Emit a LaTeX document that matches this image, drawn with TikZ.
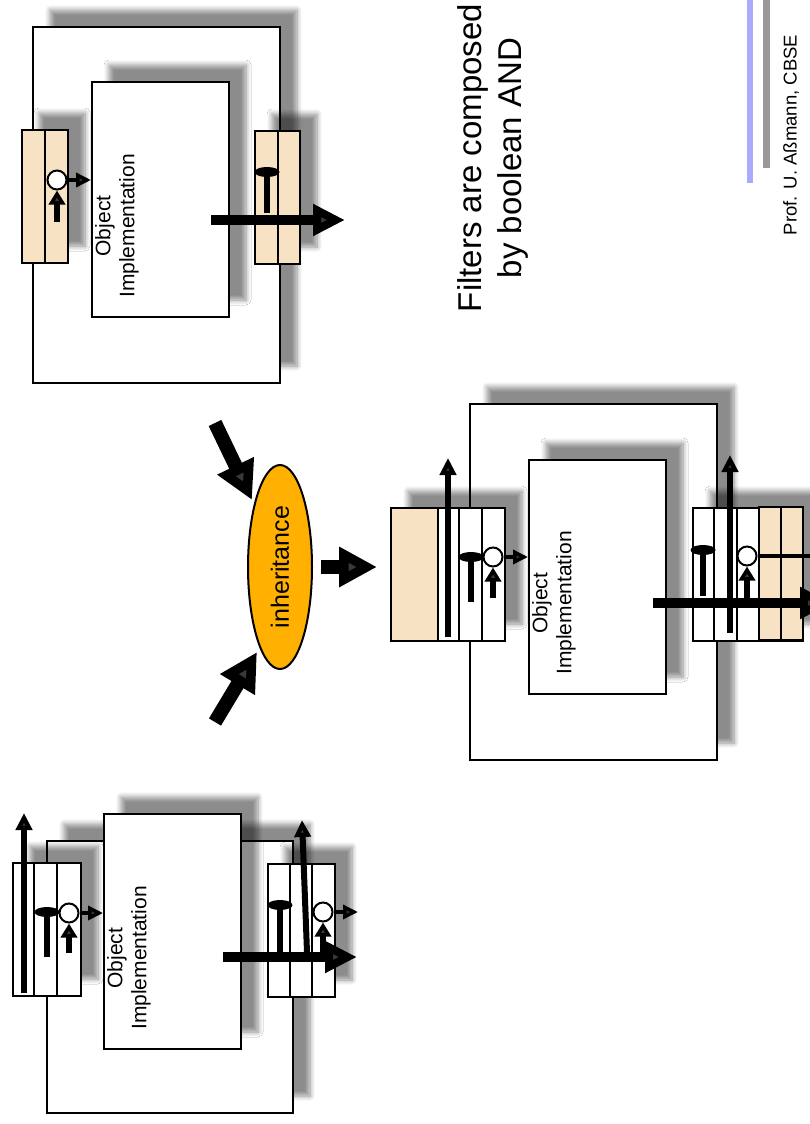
\documentclass[tikz,border=0pt]{standalone}
\usepackage{fontspec}
\setmainfont{Liberation Sans}
\usetikzlibrary{arrows.meta,shapes.geometric,shadows.blur}
\definecolor{wheat}{HTML}{F7E3C3}
\definecolor{amber}{HTML}{FFB000}
\definecolor{lilac}{HTML}{AAAAFF}
\definecolor{rulegray}{HTML}{999999}

\begin{document}
\begin{tikzpicture}[x=1pt,y=-1pt,
  shadowed/.style={blur shadow={shadow xshift=17pt,shadow yshift=17pt,shadow opacity=45,
    shadow blur radius=5pt,shadow blur steps=8}},
  shell/.style={draw,line width=2pt,fill=white,shadowed},
  impl/.style={draw,line width=2pt,fill=white,shadowed,anchor=north west,inner sep=0},
  filter/.style={draw,line width=2pt,fill=white,anchor=north west,inner sep=0,minimum height=133pt},
  beigefilter/.style={filter,fill=wheat},
  divider/.style={line width=2pt},
  impltext/.style={rotate=90,anchor=north,align=center,inner sep=2pt,font=\fontsize{21}{24}\selectfont},
  ring/.style={circle,draw,line width=2pt,fill=white,minimum size=19pt,inner sep=0},
  knob/.style={ellipse,fill=black,minimum width=25pt,minimum height=10pt,inner sep=0},
  stem/.style={line width=6pt},
  outflow/.style={-{Triangle[length=15pt,width=14pt]},line width=3.5pt},
  inflow/.style={-{Triangle[length=14pt,width=16pt]},line width=6pt},
  pass/.style={-{Triangle[length=17pt,width=16pt]},line width=6pt},
  call/.style={-{Triangle[length=32pt,width=30pt]},line width=10pt},
  fat/.style={-{Triangle[length=38pt,width=38pt]},line width=14pt}]
 \useasboundingbox (0,0) rectangle (810,1124);
 \clip (0,0) rectangle (810,1124);

 % upper object: filters of the first class
 \draw[shell] (33,27) rectangle (280,383);
 \node[impl,minimum width=137pt,minimum height=235pt] (topimpl) at (91,81) {};
 \node[impltext] (toptxt) at (93,226) {Object\\Implementation};
 \node[beigefilter,minimum width=46pt,shadowed] (tlf) at (21,129) {};
 \draw[divider] (tlf.north) -- (tlf.south);
 \node[beigefilter,minimum width=45pt,shadowed] (trf) at (254,130) {};
 \draw[divider] (trf.north) -- (trf.south);
 \node[ring] (tlc) at (57,180) {};
 \coordinate (tlin) at (57,222);
 \draw[inflow] (tlin) -- (tlc.south);
 \draw[outflow] (tlc.east) -- (topimpl.west |- tlc);
 \node[knob] (trk) at (267,172) {};
 \coordinate (trfoot) at (267,213);
 \draw[stem] (trk.center) -- (trfoot);
 \coordinate (tcallA) at (211,220);
 \coordinate (tcallB) at (345,220);
 \draw[call] (tcallA) -- (tcallB);

 % lower object: filters of the second class
 \draw[shell] (47,841) rectangle (293,1113);
 \node[impl,minimum width=137pt,minimum height=235pt] (botimpl) at (103,813) {};
 \node[impltext] (bottxt) at (105,958) {Object\\Implementation};
 \node[filter,minimum width=68pt,shadowed] (blf) at (12,862) {};
 \foreach \x in {34,57} \draw[divider] (\x,862) -- (\x,995);
 \node[filter,minimum width=67pt,shadowed] (brf) at (267,863) {};
 \foreach \x in {290,312} \draw[divider] (\x,863) -- (\x,996);
 \coordinate (blpassA) at (24,993);
 \coordinate (blpassB) at (24,813);
 \draw[pass] (blpassA) -- (blpassB);
 \node[knob] (blk) at (47,912) {};
 \coordinate (blfoot) at (47,957);
 \draw[stem] (blk.center) -- (blfoot);
 \node[ring] (blc) at (69,913) {};
 \coordinate (blin) at (69,953);
 \draw[inflow] (blin) -- (blc.south);
 \draw[outflow] (blc.east) -- (botimpl.west |- blc);
 \node[knob] (brk) at (280,905) {};
 \coordinate (brfoot) at (280,952);
 \draw[stem] (brk.center) -- (brfoot);
 \coordinate (brpassA) at (307,952);
 \coordinate (brpassB) at (302,820);
 \draw[pass] (brpassA) -- (brpassB);
 \node[ring] (brc) at (323,912) {};
 \coordinate (brin) at (323,952);
 \coordinate (brout) at (358,912);
 \draw[inflow] (brin) -- (brc.south);
 \draw[outflow] (brc.east) -- (brout);
 \coordinate (bcallA) at (223,957);
 \coordinate (bcallB) at (357,957);
 \draw[call] (bcallA) -- (bcallB);

 % inheritance
 \node[ellipse,draw,line width=2pt,fill=amber,rotate=90,minimum width=204pt,
   minimum height=64pt,inner sep=0,font=\fontsize{25}{30}\selectfont] (inh) at (280,567) {inheritance};
 \coordinate (fromtop) at (215,423);
 \coordinate (fromtopend) at (252,500);
 \coordinate (frombot) at (215,722);
 \coordinate (frombotend) at (257,652);
 \draw[fat] (fromtop) -- (fromtopend);
 \draw[fat] (frombot) -- (frombotend);

 % composed object
 \draw[shell] (470,404) rectangle (717,760);
 \node[impl,minimum width=137pt,minimum height=234pt] (midimpl) at (528,459) {};
 \node[impltext] (midtxt) at (530,603) {Object\\Implementation};
 \node[filter,minimum width=114pt,shadowed] (mls) at (390,507) {};
 \node[beigefilter,minimum width=47pt] (mlb) at (390,507) {};
 \foreach \x in {459,482} \draw[divider] (\x,507) -- (\x,640);
 \node[filter,minimum width=110pt,shadowed] (mrs) at (692,507) {};
 \node[beigefilter,minimum width=44pt] (mrb) at (758,506) {};
 \draw[divider] (mrb.north) -- (mrb.south);
 \foreach \x in {714,737} \draw[divider] (\x,507) -- (\x,640);
 \draw[fat,shorten <=8pt,shorten >=13pt] (inh.south) -- (inh.south -| mls.west);
 \coordinate (mlpassA) at (448,637);
 \coordinate (mlpassB) at (448,458);
 \draw[pass] (mlpassA) -- (mlpassB);
 \node[knob] (mlk) at (471,557) {};
 \coordinate (mlfoot) at (471,602);
 \draw[stem] (mlk.center) -- (mlfoot);
 \node[ring] (mlc) at (493,557) {};
 \coordinate (mlin) at (493,598);
 \draw[inflow] (mlin) -- (mlc.south);
 \draw[outflow] (mlc.east) -- (midimpl.west |- mlc);
 \coordinate (mrpassA) at (730,633);
 \coordinate (mrpassB) at (730,455);
 \draw[pass] (mrpassA) -- (mrpassB);
 \node[knob] (mrk) at (703,550) {};
 \coordinate (mrfoot) at (703,596);
 \draw[stem] (mrk.center) -- (mrfoot);
 \node[ring] (mrc) at (747,556) {};
 \coordinate (mrin) at (747,598);
 \coordinate (mrout) at (830,556);
 \draw[inflow] (mrin) -- (mrc.south);
 \draw[line width=4pt] (mrc.east) -- (mrout);
 \coordinate (mcallA) at (653,603);
 \coordinate (mcallB) at (832,603);
 \draw[call] (mcallA) -- (mcallB);

 % caption and footer
 \node[rotate=90,align=center,font=\fontsize{33}{40}\selectfont] (title) at (493,158)
   {Filters are composed\\by boolean AND};
 \coordinate (lilacA) at (750,0);
 \coordinate (lilacB) at (750,183);
 \draw[line width=6pt,lilac] (lilacA) -- (lilacB);
 \coordinate (grayA) at (766,0);
 \coordinate (grayB) at (766,168);
 \draw[line width=7pt,rulegray] (grayA) -- (grayB);
 \node[rotate=90,font=\fontsize{18.5}{22}\selectfont] (author) at (791,135) {Prof. U. Aßmann, CBSE};
\end{tikzpicture}
\end{document}
